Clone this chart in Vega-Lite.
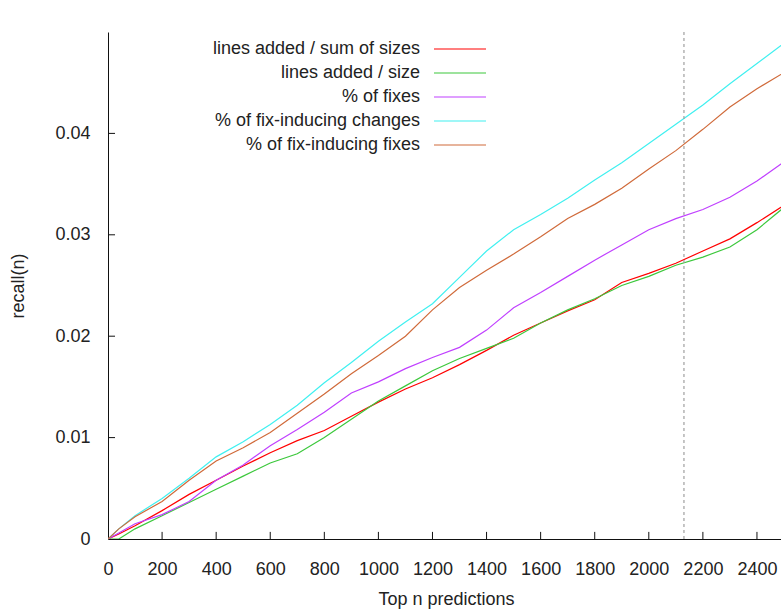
{
  "$schema": "https://vega.github.io/schema/vega-lite/v6.json",
  "width": 676,
  "height": 507,
  "autosize": {"type": "none"},
  "padding": {"left": 108, "top": 32, "right": 0, "bottom": 74},
  "background": "white",
  "config": {
    "view": {"stroke": null},
    "font": "Liberation Sans",
    "axis": {
      "grid": false,
      "domainColor": "#111",
      "ticks": false,
      "labelFont": "Liberation Sans",
      "labelFontSize": 18,
      "labelColor": "#222",
      "titleFont": "Liberation Sans",
      "titleFontSize": 18,
      "titleFontWeight": "normal",
      "titleColor": "#222"
    }
  },
  "layer": [
    {
      "data": {
        "values": [
          {"n": 0, "lines added / sum of sizes": 0, "lines added / size": 0, "% of fixes": 0, "% of fix-inducing changes": 0, "% of fix-inducing fixes": 0},
          {"n": 40, "lines added / sum of sizes": 0.0005, "lines added / size": 0, "% of fixes": 0.0006, "% of fix-inducing changes": 0.0010, "% of fix-inducing fixes": 0.0010},
          {"n": 100, "lines added / sum of sizes": 0.0013, "lines added / size": 0.0010, "% of fixes": 0.0015, "% of fix-inducing changes": 0.0023, "% of fix-inducing fixes": 0.0022},
          {"n": 200, "lines added / sum of sizes": 0.0028, "lines added / size": 0.0023, "% of fixes": 0.0024, "% of fix-inducing changes": 0.0040, "% of fix-inducing fixes": 0.0037},
          {"n": 300, "lines added / sum of sizes": 0.0044, "lines added / size": 0.0036, "% of fixes": 0.0037, "% of fix-inducing changes": 0.0060, "% of fix-inducing fixes": 0.0058},
          {"n": 400, "lines added / sum of sizes": 0.0058, "lines added / size": 0.0049, "% of fixes": 0.0058, "% of fix-inducing changes": 0.0081, "% of fix-inducing fixes": 0.0077},
          {"n": 500, "lines added / sum of sizes": 0.0072, "lines added / size": 0.0062, "% of fixes": 0.0073, "% of fix-inducing changes": 0.0096, "% of fix-inducing fixes": 0.0090},
          {"n": 600, "lines added / sum of sizes": 0.0085, "lines added / size": 0.0075, "% of fixes": 0.0092, "% of fix-inducing changes": 0.0113, "% of fix-inducing fixes": 0.0105},
          {"n": 700, "lines added / sum of sizes": 0.0097, "lines added / size": 0.0084, "% of fixes": 0.0108, "% of fix-inducing changes": 0.0132, "% of fix-inducing fixes": 0.0124},
          {"n": 800, "lines added / sum of sizes": 0.0107, "lines added / size": 0.0100, "% of fixes": 0.0125, "% of fix-inducing changes": 0.0154, "% of fix-inducing fixes": 0.0143},
          {"n": 900, "lines added / sum of sizes": 0.0121, "lines added / size": 0.0118, "% of fixes": 0.0144, "% of fix-inducing changes": 0.0174, "% of fix-inducing fixes": 0.0163},
          {"n": 1000, "lines added / sum of sizes": 0.0135, "lines added / size": 0.0136, "% of fixes": 0.0155, "% of fix-inducing changes": 0.0195, "% of fix-inducing fixes": 0.0181},
          {"n": 1100, "lines added / sum of sizes": 0.0148, "lines added / size": 0.0151, "% of fixes": 0.0168, "% of fix-inducing changes": 0.0214, "% of fix-inducing fixes": 0.0200},
          {"n": 1200, "lines added / sum of sizes": 0.0159, "lines added / size": 0.0166, "% of fixes": 0.0179, "% of fix-inducing changes": 0.0232, "% of fix-inducing fixes": 0.0226},
          {"n": 1300, "lines added / sum of sizes": 0.0172, "lines added / size": 0.0178, "% of fixes": 0.0189, "% of fix-inducing changes": 0.0258, "% of fix-inducing fixes": 0.0248},
          {"n": 1400, "lines added / sum of sizes": 0.0186, "lines added / size": 0.0188, "% of fixes": 0.0206, "% of fix-inducing changes": 0.0284, "% of fix-inducing fixes": 0.0265},
          {"n": 1500, "lines added / sum of sizes": 0.0201, "lines added / size": 0.0198, "% of fixes": 0.0228, "% of fix-inducing changes": 0.0305, "% of fix-inducing fixes": 0.0281},
          {"n": 1600, "lines added / sum of sizes": 0.0213, "lines added / size": 0.0213, "% of fixes": 0.0243, "% of fix-inducing changes": 0.0320, "% of fix-inducing fixes": 0.0298},
          {"n": 1700, "lines added / sum of sizes": 0.0225, "lines added / size": 0.0226, "% of fixes": 0.0259, "% of fix-inducing changes": 0.0336, "% of fix-inducing fixes": 0.0316},
          {"n": 1800, "lines added / sum of sizes": 0.0236, "lines added / size": 0.0237, "% of fixes": 0.0275, "% of fix-inducing changes": 0.0354, "% of fix-inducing fixes": 0.0330},
          {"n": 1900, "lines added / sum of sizes": 0.0253, "lines added / size": 0.0250, "% of fixes": 0.0290, "% of fix-inducing changes": 0.0371, "% of fix-inducing fixes": 0.0346},
          {"n": 2000, "lines added / sum of sizes": 0.0262, "lines added / size": 0.0259, "% of fixes": 0.0305, "% of fix-inducing changes": 0.0390, "% of fix-inducing fixes": 0.0365},
          {"n": 2100, "lines added / sum of sizes": 0.0272, "lines added / size": 0.0270, "% of fixes": 0.0316, "% of fix-inducing changes": 0.0409, "% of fix-inducing fixes": 0.0383},
          {"n": 2200, "lines added / sum of sizes": 0.0284, "lines added / size": 0.0278, "% of fixes": 0.0325, "% of fix-inducing changes": 0.0428, "% of fix-inducing fixes": 0.0404},
          {"n": 2300, "lines added / sum of sizes": 0.0296, "lines added / size": 0.0288, "% of fixes": 0.0337, "% of fix-inducing changes": 0.0449, "% of fix-inducing fixes": 0.0426},
          {"n": 2400, "lines added / sum of sizes": 0.0312, "lines added / size": 0.0305, "% of fixes": 0.0353, "% of fix-inducing changes": 0.0469, "% of fix-inducing fixes": 0.0444},
          {"n": 2500, "lines added / sum of sizes": 0.0329, "lines added / size": 0.0327, "% of fixes": 0.0372, "% of fix-inducing changes": 0.0489, "% of fix-inducing fixes": 0.0460}
        ]
      },
      "transform": [
        {"fold": ["lines added / sum of sizes", "lines added / size", "% of fixes", "% of fix-inducing changes", "% of fix-inducing fixes"], "as": ["series", "recall"]}
      ],
      "mark": {"type": "line", "strokeWidth": 1.2, "clip": true},
      "encoding": {
        "x": {
          "field": "n", "type": "quantitative",
          "scale": {"domain": [0, 2500], "nice": false},
          "axis": {"values": [0, 200, 400, 600, 800, 1000, 1200, 1400, 1600, 1800, 2000, 2200, 2400], "format": "d", "title": "Top n predictions", "labelPadding": 21, "titlePadding": 12, "labelFlush": false}
        },
        "y": {
          "field": "recall", "type": "quantitative",
          "scale": {"domain": [0, 0.05], "nice": false},
          "axis": {"values": [0, 0.01, 0.02, 0.03, 0.04], "format": "~g", "title": "recall(n)", "labelPadding": 18, "titlePadding": 27}
        },
        "color": {
          "field": "series", "type": "nominal",
          "scale": {
            "domain": ["lines added / sum of sizes", "lines added / size", "% of fixes", "% of fix-inducing changes", "% of fix-inducing fixes"],
            "range": ["#ff0000", "#3cc83c", "#c040ff", "#40f0f0", "#d06a3a"]
          },
          "legend": {
            "orient": "none", "legendX": 343, "legendY": 8,
            "title": null,
            "symbolType": "M-13,0H13",
            "symbolSize": 16,
            "symbolStrokeWidth": 1.2,
            "labelAlign": "right",
            "labelOffset": -49,
            "labelFont": "Liberation Sans",
            "labelFontSize": 18,
            "labelColor": "#222",
            "labelLimit": 400,
            "rowPadding": 6
          }
        }
      }
    },
    {
      "data": {"values": [{"n": 2130}]},
      "mark": {"type": "rule", "strokeDash": [3, 3], "color": "#a0a0a0", "strokeWidth": 1.2},
      "encoding": {"x": {"field": "n", "type": "quantitative"}}
    },
    {
      "data": {"values": [{"t": 200}, {"t": 400}, {"t": 600}, {"t": 800}, {"t": 1000}, {"t": 1200}, {"t": 1400}, {"t": 1600}, {"t": 1800}, {"t": 2000}, {"t": 2200}, {"t": 2400}]},
      "mark": {"type": "rule", "color": "#111", "strokeWidth": 1},
      "encoding": {
        "x": {"field": "t", "type": "quantitative"},
        "y": {"datum": 0},
        "y2": {"datum": 0.0007}
      }
    },
    {
      "data": {"values": [{"t": 0.01}, {"t": 0.02}, {"t": 0.03}, {"t": 0.04}]},
      "mark": {"type": "rule", "color": "#111", "strokeWidth": 1},
      "encoding": {
        "y": {"field": "t", "type": "quantitative"},
        "x": {"datum": 0},
        "x2": {"datum": 26}
      }
    }
  ]
}
